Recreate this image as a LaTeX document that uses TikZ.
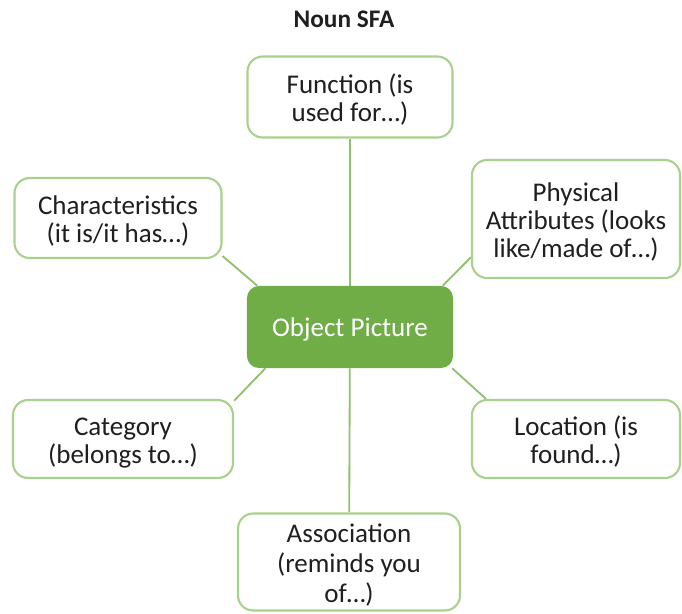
\documentclass[tikz,border=0pt]{standalone}
\usepackage{fontspec}
\setmainfont{Carlito}
\usepackage{xcolor}
\usetikzlibrary{positioning}
\usetikzlibrary{backgrounds}
\definecolor{leafgreen}{HTML}{70AD47}
\definecolor{rimgreen}{HTML}{A9D18E}
\definecolor{linkgreen}{HTML}{8DC16B}
\def\boxfont{\fontsize{19.2}{19.8}\selectfont}
\def\loosefont{\fontsize{19.2}{21.3}\selectfont}
\tikzset{
leaf/.style 2 args={draw=rimgreen,line width=1.5pt,fill=white,rounded corners=0.38cm,
	align=center,font=\boxfont,text=black!88,text height=40pt,text depth=5pt,
	minimum width=#1,minimum height=#2},
tall/.style={text height=60pt},
loose/.style={font=\loosefont,text height=57pt,text depth=0pt},
hub/.style={fill=leafgreen,rounded corners=0.3cm,align=center,font=\boxfont,
	text=white,text depth=0pt,minimum width=5.15cm,minimum height=2.05cm},
link/.style={draw=linkgreen,line width=1.3pt},
}

\begin{document}
\begin{tikzpicture}[x=0.025cm,y=-0.025cm]
\useasboundingbox (0,0) rectangle (682,613);
%Place the nodes
\node[font=\bfseries\fontsize{18}{21}\selectfont,text=black!88] (title) at (344,19) {Noun SFA};
\node[hub] (obj) at (350,327) {Object Picture};
\node[leaf={5.125cm}{2.025cm}] (func) at (350,97) {Function (is\\used for\dots)};
\node[leaf={5.175cm}{2cm}] (char) at (118,218) {Characteristics\\(it is/it has\dots)};
\node[leaf={5.2cm}{2.95cm},tall] (phys) at (576,219) {Physical\\Attributes (looks\\like/made of\dots)};
\node[leaf={5.5cm}{1.95cm}] (cat) at (123,439) {Category\\(belongs to\dots)};
\node[leaf={5.2cm}{1.95cm}] (loc) at (576,439) {Location (is\\found\dots)};
\node[leaf={5.55cm}{2.425cm},loose] (assoc) at (349,562) {Association\\(reminds you\\of\dots)};

%Spokes behind the boxes
\begin{scope}[on background layer]
\draw[link] (func) to (obj);
\draw[link] (obj) to (assoc);
\draw[link] (char.340) to (obj.156);
\draw[link] (phys.200) to (obj.24);
\draw[link] (cat.19) to (obj.206);
\draw[link] (loc.156) to (obj.338);
\end{scope}

\end{tikzpicture}
\end{document}
